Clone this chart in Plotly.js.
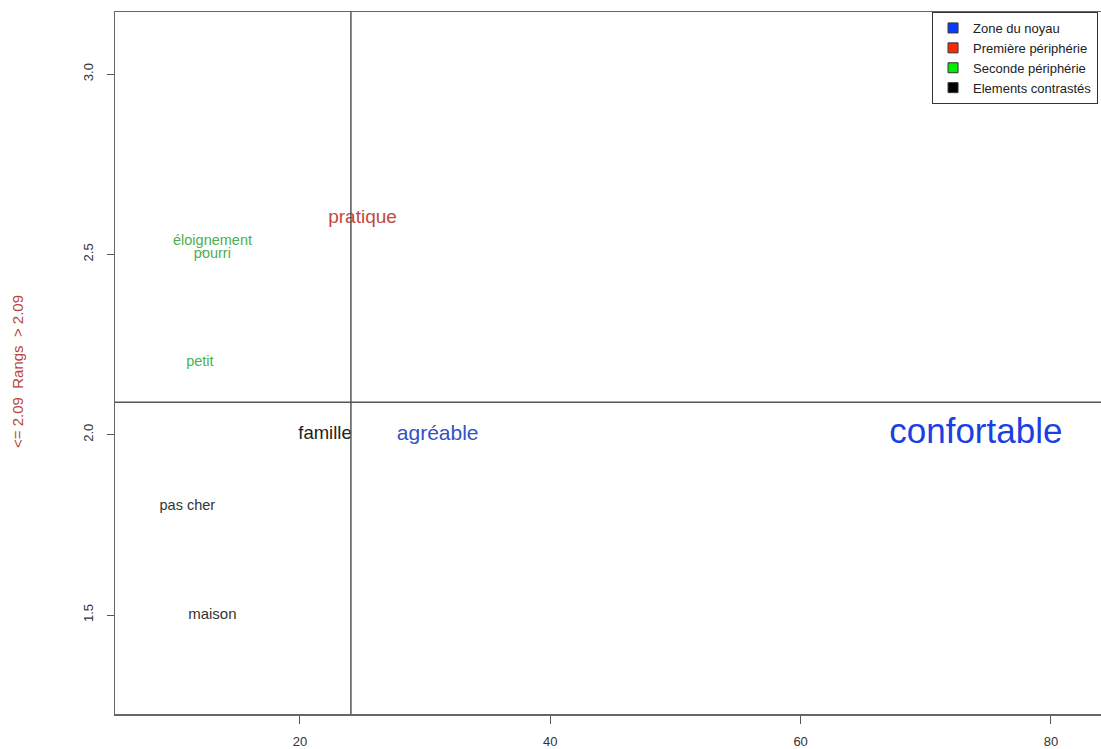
<!DOCTYPE html>
<html>
<head>
<meta charset="utf-8">
<script src="https://cdn.plot.ly/plotly-3.0.1.min.js"></script>
<style>
html,body{margin:0;padding:0;background:#fff;overflow:hidden;}
#chart{width:1101px;height:749px;}
</style>
</head>
<body>
<div id="chart"></div>
<script>
// ---- data ----
const words = ["confortable", "agréable", "pratique", "éloignement", "pourri", "petit", "famille", "pas cher", "maison"];
const freq  = [74, 31, 25, 12, 13, 12, 22, 11, 13];
const rang  = [2.0, 2.0, 2.6, 2.5, 2.5, 2.2, 2.0, 1.8, 1.5];
const zone  = [0, 0, 1, 2, 2, 2, 3, 3, 3];
const zoneNames = ["Zone du noyau", "Première périphérie", "Seconde périphérie", "Elements contrastés"];
const freqThreshold = 24.07;
const rangThreshold = 2.09;
const xTicks = [20, 40, 60, 80];
const yTicks = [1.5, 2.0, 2.5, 3.0];
const repelled = ["éloignement"];

// ---- styles ----
const zoneLegendColors = ["#0a3cff", "#ff2a00", "#00ee00", "#000000"];
const wordColors = ["#1b3fe2", "#3550c6", "#c04a3c", "#4caf50", "#4caf50", "#4caf50", "#222222", "#333333", "#333333"];
const wordSizes  = [35, 21, 19, 14.5, 14.5, 14.5, 18.5, 14.5, 15];
const FONT = "Liberation Sans, Arial, Helvetica, sans-serif";

const traces = [];
const annotations = [];
for (let z = 0; z < zoneNames.length; z++) {
  const idx = words.map((w, i) => i).filter(i => zone[i] === z && repelled.indexOf(words[i]) < 0);
  traces.push({
    type: "scatter", mode: "text",
    x: idx.map(i => freq[i]), y: idx.map(i => rang[i]),
    text: idx.map(i => words[i]),
    textposition: "middle center",
    textfont: {family: FONT, size: idx.map(i => wordSizes[i]), color: idx.map(i => wordColors[i])},
    showlegend: false, hoverinfo: "text", cliponaxis: false
  });
}
words.forEach((w, i) => {
  if (repelled.indexOf(w) >= 0) {
    annotations.push({
      x: freq[i], y: rang[i], xref: "x", yref: "y", text: w,
      showarrow: true, arrowhead: 0, arrowwidth: 1, arrowcolor: "#7a9a6a",
      ax: 13, ay: -14, standoff: 0,
      font: {family: FONT, size: wordSizes[i], color: wordColors[i]}
    });
  }
});
// legend entries
zoneNames.forEach((n, z) => {
  traces.push({
    type: "scatter", mode: "markers", x: [null], y: [null], name: n,
    marker: {symbol: "square", size: 10, color: zoneLegendColors[z], line: {width: 1, color: "#333"}},
    showlegend: true, hoverinfo: "skip"
  });
});
// reference lines
traces.push({type: "scatter", mode: "lines", x: [freqThreshold, freqThreshold], y: [1.2255, 3.172],
  line: {color: "#555", width: 1.5}, showlegend: false, hoverinfo: "skip"});
traces.push({type: "scatter", mode: "lines", x: [5.22, 84.0], y: [rangThreshold, rangThreshold],
  line: {color: "#555", width: 1.5}, showlegend: false, hoverinfo: "skip"});

annotations.push({
  xref: "paper", yref: "paper", x: -0.0994, y: 0.4886, xanchor: "center", yanchor: "middle",
  text: "<=\u00a02.09\u00a0\u00a0Rangs\u00a0\u00a0>\u00a02.09", textangle: -90, showarrow: false,
  font: {family: FONT, size: 15, color: "#b5473a"}
});

const layout = {
  width: 1101, height: 749,
  margin: {l: 115, r: 0, t: 12, b: 35},
  paper_bgcolor: "#fff", plot_bgcolor: "#fff",
  font: {family: FONT, color: "#333"},
  showlegend: true,
  legend: {x: 0.997, y: 1, xanchor: "right", yanchor: "top", bgcolor: "#fff",
    bordercolor: "#333", borderwidth: 1, font: {family: FONT, size: 13, color: "#222"},
    tracegroupgap: 0, itemwidth: 30},
  xaxis: {range: [5.22, 84.0], tickvals: xTicks, ticktext: xTicks.map(String), showgrid: false, zeroline: false,
    showline: true, linecolor: "#666", linewidth: 1.5, mirror: true, ticks: "outside", ticklen: 8,
    tickcolor: "#555", tickwidth: 1, tickfont: {family: FONT, size: 13, color: "#333"}, ticklabelstandoff: 7},
  yaxis: {range: [1.2255, 3.172], tickvals: yTicks, ticktext: yTicks.map(v => v.toFixed(1)), showgrid: false, zeroline: false,
    showline: true, linecolor: "#666", linewidth: 1.5, ticks: "outside", ticklen: 7, tickangle: -90,
    tickcolor: "#555", tickwidth: 1, tickfont: {family: FONT, size: 13, color: "#333"}, ticklabelstandoff: 8},
  annotations: annotations
};
Plotly.newPlot("chart", traces, layout, {displayModeBar: false, staticPlot: true});
</script>
</body>
</html>
